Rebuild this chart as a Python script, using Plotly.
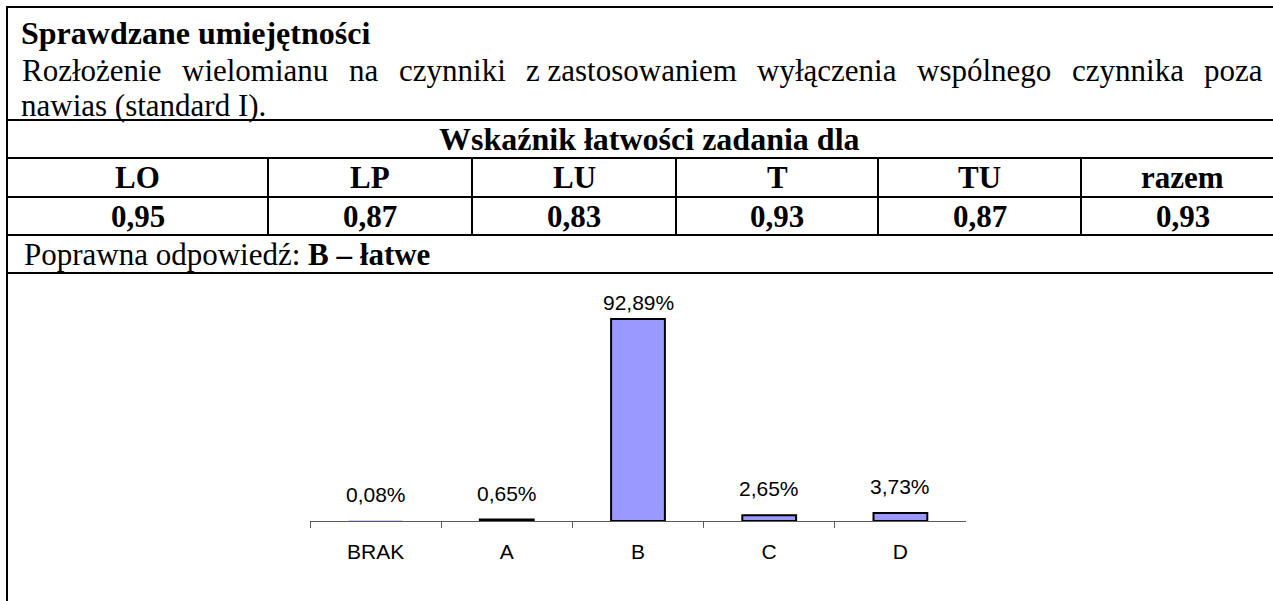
import plotly.graph_objects as go

# ---------------- data ----------------
categories = ["BRAK", "A", "B", "C", "D"]
shares = [0.08, 0.65, 92.89, 2.65, 3.73]

groups = ["LO", "LP", "LU", "T", "TU", "razem"]
ease = [0.95, 0.87, 0.83, 0.93, 0.87, 0.93]

title_text = "Sprawdzane umiejętności"
skill_words = ["Rozłożenie", "wielomianu", "na", "czynniki", "z zastosowaniem",
               "wyłączenia", "wspólnego", "czynnika", "poza"]
skill_tail = "nawias (standard I)."
header_text = "Wskaźnik łatwości zadania dla"
answer_label = "Poprawna odpowiedź: "
answer_value = "B – łatwe"

# ---------------- helpers ----------------
W, H = 1273, 601


def px(x):
    return x / W


def py(y):
    return 1 - y / H


SERIF = "Liberation Serif, Times New Roman, serif"
SANS = "Liberation Sans, Arial, sans-serif"
FS = 31          # table text size
HFS = 32         # bold heading size
CFS = 21         # chart text size

# Times New Roman (regular) advance widths, 1/1000 em
TIMES_W = {
    " ": 250, "R": 667, "o": 500, "z": 444, "ł": 278, "ż": 444, "e": 444, "n": 500,
    "i": 278, "w": 722, "l": 278, "m": 778, "a": 444, "u": 500, "c": 444, "y": 500,
    "k": 500, "s": 389, "t": 278, "ą": 444, "p": 500, "ó": 500, "g": 500,
}


def tw(s, size):
    return sum(TIMES_W.get(ch, 500) for ch in s) * size / 1000


def fmt_pl(v, nd=2):
    return f"{v:.{nd}f}".replace(".", ",")


# table geometry (pixels)
LEFT, RIGHT = 7, 1290
TOP = 7
row_lines = [120, 158, 197, 235, 273]
col_edges = [7, 268, 472, 676, 878, 1081, 1284]

shapes = []
line_style = dict(color="black", width=2)
shapes.append(dict(type="line", xref="paper", yref="paper", x0=px(LEFT - 1), x1=px(RIGHT),
                   y0=py(TOP), y1=py(TOP), line=line_style))
shapes.append(dict(type="line", xref="paper", yref="paper", x0=px(LEFT), x1=px(LEFT),
                   y0=py(TOP - 1), y1=py(H + 5), line=line_style))
for yl in row_lines:
    shapes.append(dict(type="line", xref="paper", yref="paper", x0=px(LEFT), x1=px(RIGHT),
                       y0=py(yl), y1=py(yl), line=line_style))
for xe in col_edges[1:-1]:
    shapes.append(dict(type="line", xref="paper", yref="paper", x0=px(xe), x1=px(xe),
                       y0=py(row_lines[1]), y1=py(row_lines[3]), line=line_style))

annotations = []


def add_text(text, x, y, size=FS, family=SERIF, xanchor="left"):
    annotations.append(dict(text=text, x=px(x), y=py(y), xref="paper", yref="paper",
                            xanchor=xanchor, yanchor="middle", showarrow=False,
                            font=dict(family=family, size=size, color="black"),
                            borderpad=0, borderwidth=0))


TEXT_X = 21
add_text(f"<b>{title_text}</b>", TEXT_X, 33, size=HFS)

# justified second line
line_left, line_right = 22, 1263
total = sum(tw(wd, FS) for wd in skill_words)
gap = (line_right - line_left - total) / (len(skill_words) - 1)
xcur = line_left
for wd in skill_words:
    add_text(wd, xcur, 70)
    xcur += tw(wd, FS) + gap

add_text(skill_tail, TEXT_X, 105)
add_text(f"<b>{header_text}</b>", (col_edges[0] + col_edges[-1]) / 2 + 4, 139,
         size=HFS, xanchor="center")

for i, (g, v) in enumerate(zip(groups, ease)):
    cx = (col_edges[i] + col_edges[i + 1]) / 2
    add_text(f"<b>{g}</b>", cx, 178, xanchor="center")
    add_text(f"<b>{fmt_pl(v)}</b>", cx, 216, xanchor="center")

add_text(f"{answer_label}<b>{answer_value}</b>", 24, 254)

# ---------------- chart ----------------
AX_L, AX_R, AX_Y = 310, 966, 521
Y_MAX = 100
PX_PER_UNIT = (521 - 319) / 92.89
Y_TOP = AX_Y - Y_MAX * PX_PER_UNIT

fig = go.Figure()
fig.add_trace(go.Bar(
    x=categories, y=shares, width=0.41,
    marker=dict(color="#9999FF", line=dict(color="black", width=[0, 2, 2, 2, 2])),
    hoverinfo="skip", showlegend=False,
))

label_shift = [13, 13, 3, 13, 13]
for c, v, s in zip(categories, shares, label_shift):
    annotations.append(dict(text=fmt_pl(v) + "%", x=c, y=v, xref="x", yref="y",
                            xanchor="center", yanchor="bottom", yshift=s, showarrow=False,
                            font=dict(family=SANS, size=CFS, color="black")))

fig.update_layout(
    width=W, height=H, autosize=False,
    margin=dict(l=0, r=0, t=0, b=0),
    paper_bgcolor="white", plot_bgcolor="white",
    shapes=shapes, annotations=annotations,
    bargap=0.59,
    xaxis=dict(domain=[px(AX_L), px(AX_R)], range=[-0.5, 4.5], type="category",
               showline=True, linecolor="#5a5a5a", linewidth=1,
               ticks="outside", ticklen=6, tickcolor="#5a5a5a", tickwidth=1,
               tickson="boundaries", showgrid=False, zeroline=False,
               tickfont=dict(family=SANS, size=CFS, color="black"),
               ticklabelstandoff=12, automargin=False, fixedrange=True),
    yaxis=dict(domain=[py(AX_Y), py(Y_TOP)], range=[0, Y_MAX], visible=False,
               showgrid=False, zeroline=False, automargin=False, fixedrange=True),
)

fig.write_html("out.html", config={"displayModeBar": False},
               post_script="document.body.style.margin='0';document.body.style.padding='0';")
